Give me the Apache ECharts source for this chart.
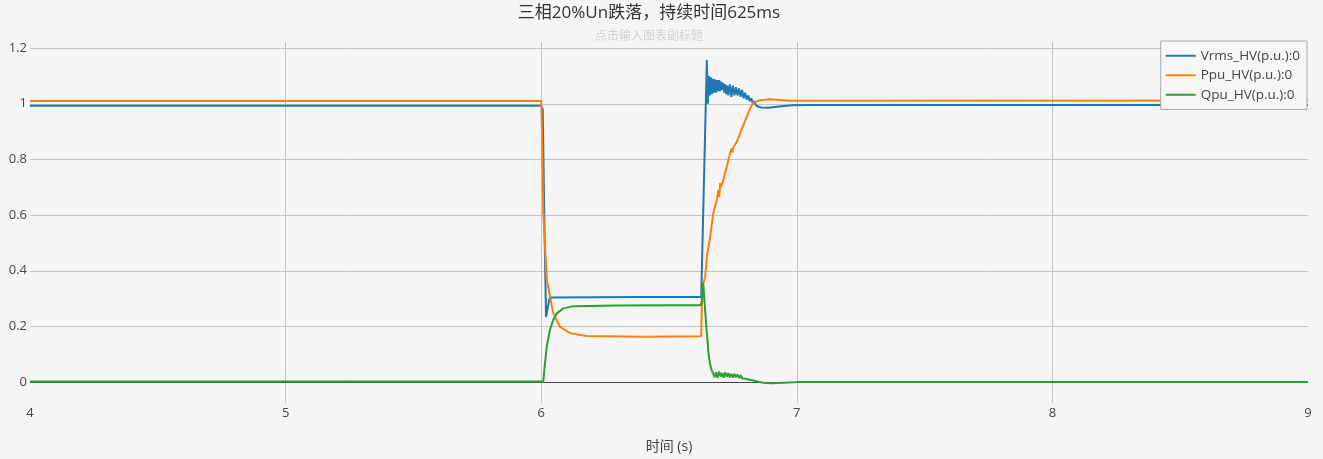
<!DOCTYPE html>
<html>
<head>
<meta charset="utf-8">
<script src="https://cdn.jsdelivr.net/npm/echarts@6/dist/echarts.min.js"></script>
<style>
  html, body { margin: 0; padding: 0; background: #f5f5f5; }
  #chart { width: 1323px; height: 459px; }
</style>
</head>
<body>
<div id="chart"></div>
<script>
// Values
const seriesNames = ["Vrms_HV(p.u.):0", "Ppu_HV(p.u.):0", "Qpu_HV(p.u.):0"];
const yTicks = [0, 0.2, 0.4, 0.6, 0.8, 1, 1.2];

const vrmsTime = [4, 6.0, 6.006, 6.012, 6.019, 6.026, 6.032, 6.04, 6.2, 6.4, 6.626,
  6.648, 6.652, 6.656, 6.66, 6.664, 6.668, 6.672, 6.676, 6.68, 6.684, 6.688, 6.692,
  6.696, 6.7, 6.704, 6.708, 6.712, 6.716, 6.72, 6.724, 6.728, 6.732, 6.738, 6.744,
  6.75, 6.756, 6.762, 6.768, 6.774, 6.78, 6.786, 6.792, 6.798, 6.804, 6.81, 6.816,
  6.822, 6.828, 6.834, 6.84, 6.848, 6.86, 6.89, 6.93, 6.98, 7.05, 9];
const vrmsValue = [0.993, 0.993, 0.98, 0.6, 0.234, 0.27, 0.3, 0.304, 0.305, 0.306, 0.306,
  1.157, 1.0, 1.1, 1.03, 1.095, 1.035, 1.09, 1.04, 1.088, 1.04, 1.085, 1.045,
  1.085, 1.045, 1.08, 1.05, 1.075, 1.04, 1.07, 1.035, 1.065, 1.03, 1.07, 1.025,
  1.065, 1.03, 1.06, 1.03, 1.055, 1.025, 1.05, 1.02, 1.04, 1.015, 1.03, 1.01,
  1.02, 1.0, 1.01, 0.995, 0.99, 0.987, 0.986, 0.99, 0.995, 0.996, 0.996];

const ppuTime = [4, 6.0, 6.003, 6.008, 6.022, 6.047, 6.074, 6.113, 6.178, 6.4, 6.626,
  6.629, 6.634, 6.642, 6.648, 6.661, 6.673, 6.687, 6.693, 6.697, 6.7, 6.704, 6.712,
  6.726, 6.739, 6.745, 6.748, 6.752, 6.765, 6.778, 6.791, 6.804, 6.817, 6.83, 6.856,
  6.895, 6.973, 9];
const ppuValue = [1.01, 1.01, 0.9, 0.61, 0.366, 0.248, 0.198, 0.176, 0.166, 0.163, 0.165,
  0.3, 0.356, 0.378, 0.45, 0.522, 0.606, 0.654, 0.69, 0.665, 0.715, 0.7, 0.726,
  0.774, 0.822, 0.84, 0.825, 0.845, 0.863, 0.894, 0.923, 0.953, 0.983, 1.004, 1.013,
  1.016, 1.011, 1.012];

const qpuTime = [4, 6.0, 6.008, 6.014, 6.022, 6.034, 6.047, 6.061, 6.087, 6.126, 6.3,
  6.5, 6.624, 6.628, 6.634, 6.638, 6.642, 6.648, 6.655, 6.66, 6.666, 6.672, 6.678,
  6.684, 6.69, 6.696, 6.702, 6.708, 6.714, 6.72, 6.726, 6.732, 6.738, 6.744, 6.75,
  6.756, 6.762, 6.768, 6.774, 6.78, 6.786, 6.792, 6.8, 6.82, 6.845, 6.868, 6.9,
  6.95, 7.0, 9];
const qpuValue = [0.002, 0.002, 0.0, 0.06, 0.13, 0.187, 0.223, 0.247, 0.265, 0.273, 0.275,
  0.276, 0.276, 0.29, 0.355, 0.3, 0.25, 0.176, 0.1, 0.068, 0.045, 0.032, 0.018,
  0.035, 0.016, 0.038, 0.02, 0.033, 0.016, 0.035, 0.02, 0.032, 0.017, 0.03, 0.016,
  0.03, 0.017, 0.028, 0.015, 0.025, 0.013, 0.02, 0.012, 0.008, 0.002, -0.002, -0.004,
  -0.002, 0, 0];

const colors = ["#1f77b4", "#ff7f0e", "#2ca02c"];
const fontFamily = '"Open Sans", "Noto Sans CJK SC", sans-serif';

function zip(times, values) {
  return times.map((t, i) => [t, values[i]]);
}

const chart = echarts.init(document.getElementById("chart"));

function lineSeries(name, data, color) {
  return {
    name: name,
    type: "line",
    data: data,
    showSymbol: false,
    symbol: "none",
    z: 3,
    lineStyle: { width: 2, color: color },
    itemStyle: { color: color },
  };
}

const series = [
  lineSeries(seriesNames[0], zip(vrmsTime, vrmsValue), colors[0]),
  lineSeries(seriesNames[1], zip(ppuTime, ppuValue), colors[1]),
  lineSeries(seriesNames[2], zip(qpuTime, qpuValue), colors[2]),
];

// zero line drawn under the curves
series[0].markLine = {
  silent: true,
  symbol: "none",
  z: 1,
  label: { show: false },
  lineStyle: { color: "#444", width: 1, type: "solid" },
  data: [{ yAxis: 0 }],
};

const option = {
  backgroundColor: "#f5f5f5",
  animation: false,
  textStyle: { fontFamily: fontFamily },
  title: {
    text: "三相20%Un跌落，持续时间625ms",
    subtext: "点击输入图表副标题",
    left: 644,
    textAlign: "center",
    top: 0,
    itemGap: 9,
    textStyle: { fontSize: 17, fontWeight: "normal", color: "#333", fontFamily: fontFamily },
    subtextStyle: { fontSize: 12, color: "#d2d2d2", fontFamily: fontFamily },
  },
  legend: {
    orient: "vertical",
    right: 16,
    top: 41,
    padding: [8, 7, 8, 5],
    itemWidth: 30,
    itemHeight: 2,
    itemGap: 6,
    icon: "rect",
    backgroundColor: "#f7f7f7",
    borderColor: "#aaa",
    borderWidth: 1,
    borderRadius: 0,
    textStyle: { fontSize: 13.5, color: "#444", fontFamily: fontFamily },
    data: seriesNames,
  },
  grid: {
    left: 30,
    right: 15,
    top: 42,
    bottom: 56,
  },
  xAxis: {
    type: "value",
    min: 4,
    max: 9,
    interval: 1,
    name: "时间 (s)",
    nameLocation: "middle",
    nameGap: 37,
    nameTextStyle: { fontSize: 14, color: "#444", fontFamily: fontFamily },
    axisLine: { show: false },
    axisTick: { show: false },
    axisLabel: { color: "#444", fontSize: 13, margin: 4 },
    splitLine: {
      show: true,
      showMinLine: false,
      showMaxLine: false,
      lineStyle: { color: "#c4c4c4", width: 1 },
    },
  },
  yAxis: {
    type: "value",
    min: -0.075,
    max: 1.222,
    axisLine: { show: false },
    axisTick: { show: false, customValues: yTicks },
    axisLabel: {
      color: "#444",
      fontSize: 13,
      margin: 3,
      customValues: yTicks,
      showMinLabel: true,
      showMaxLabel: true,
    },
    splitLine: {
      show: true,
      lineStyle: { color: "#c4c4c4", width: 1 },
    },
  },
  series: series,
};

chart.setOption(option);
</script>
</body>
</html>
